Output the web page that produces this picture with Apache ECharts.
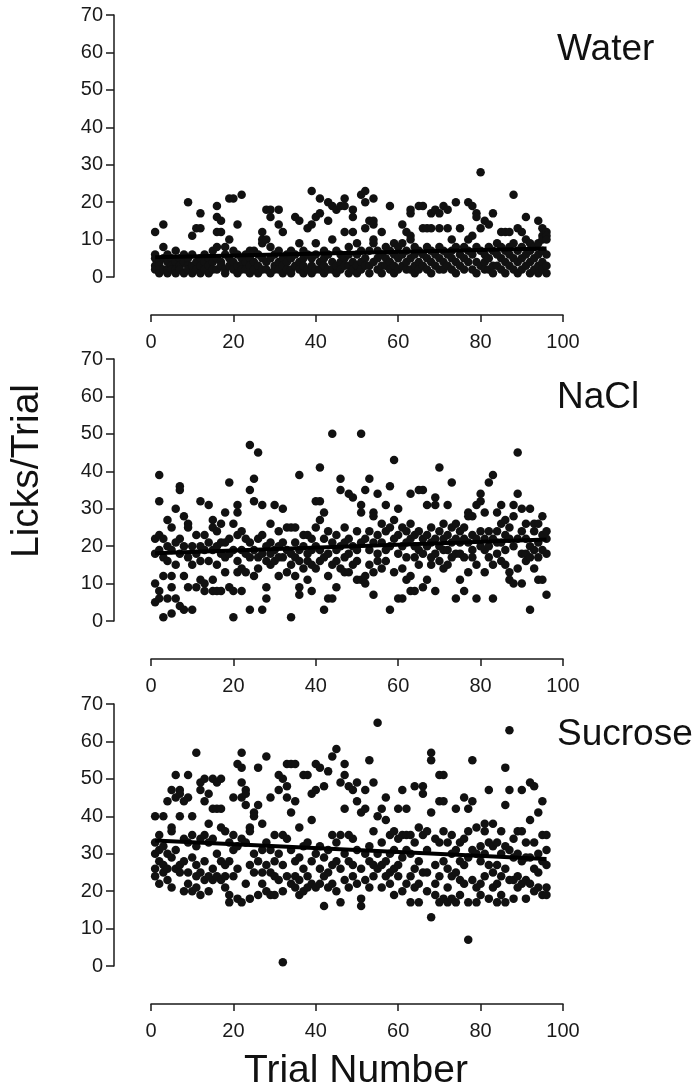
<!DOCTYPE html>
<html>
<head>
<meta charset="utf-8" />
<script src="https://cdn.jsdelivr.net/npm/echarts@6/dist/echarts.min.js"></script>
<style>
  html, body { margin: 0; padding: 0; background: #fff; }
  #main { width: 699px; height: 1091px; }
</style>
</head>
<body>
<div id="main"></div>
<script>
// licks per trial, one list per trial number (1..96)
var water = [
  [12,6,5,3,2],[4,3,2,1],[14,8,5,2],[6,4,2,1],[5,3,2],[7,4,2,1],[5,3,2],[6,4,1],
  [20,5,3,2],[11,6,3,1],[13,4,2],[17,13,5,3,1],[6,4,2],[5,3,1],[7,4,2],[19,16,12,8,5,2],
  [15,12,4,3],[8,6,2,1],[21,10,5,3],[21,7,4,2],[14,6,3,1],[22,5,3,2],[6,4,2],[7,5,3,1],
  [7,4,2],[6,3,1],[12,10,9,5,2],[18,10,4,2],[18,16,8,5,1],[6,3,2],[18,14,7,4,2],[12,5,3,1],
  [6,4,2],[7,5,2,1],[16,6,3],[15,9,4,2],[7,5,3,1],[13,6,2],[23,14,5,3,1],[16,9,6,2],
  [21,17,4,2],[7,5,3,1],[20,15,6,2],[19,10,4,2],[18,7,3,1],[19,6,4,2],[21,19,12,5,3],[8,6,3,1],
  [18,16,12,4,2],[9,6,3,1],[22,7,4,2],[23,20,13,5,3],[15,7,3,1],[21,15,14,10,9,4],[7,5,2],[12,6,3,1],
  [8,5,3],[19,7,4,2],[9,6,3,1],[8,5,2],[14,9,6,3],[12,7,4,2],[18,17,11,10,5,2],[8,6,3,1],
  [19,7,4,2],[19,13,6,3],[13,8,5,2],[17,13,7,4,1],[18,6,3],[17,13,8,5,2],[19,7,4,2],[18,13,6,3],
  [10,7,5,2],[20,8,4,1],[13,6,3],[8,5,2],[20,10,7,4],[19,11,6,2],[17,16,8,4,1],[28,13,7,3],
  [15,6,4,2],[14,8,5,2],[17,7,3,1],[9,6,3],[12,8,5,2],[12,7,4,1],[12,8,6,3],[22,9,5,2],
  [13,7,4,1],[12,8,5,2],[16,10,6,3],[9,7,4,1],[8,5,2],[15,9,6,3,1],[13,11,10,7,4,2],[12,11,10,6,3,1]
];
var nacl = [
  [22,18,10,5],[39,32,23,19,8,6],[22,17,12,1],[27,20,16,6],[25,19,12,9,2],[30,21,15,6],[36,35,22,18,4],[28,20,12,3],
  [26,25,17,9],[20,15,3],[23,18,9],[32,20,16,11],[23,19,10,8],[31,21,16],[27,25,19,11,8],[24,20,15,8],
  [26,21,18,8],[29,21,17,13],[37,22,18,9],[26,19,8,1],[31,29,23,16,13],[24,19,14,8],[22,18,13],[47,35,21,17,3],
  [38,32,19,12],[45,22,17,14],[31,23,18,3],[20,16,9,6],[26,21,18,15],[31,19,16],[24,20,17,12],[30,21,17],
  [25,19,13],[25,18,15,1],[25,21,17,12],[39,19,16,9,7],[23,20,14],[23,18,16,11],[22,19,15,8],[32,25,20,14],
  [41,32,27,19,16],[29,22,17,3],[24,18,12,6],[50,21,15,6],[23,19,16,9],[38,35,20,14],[25,21,17,13],[34,22,18,13],
  [33,20,15],[24,19,16,11],[50,31,29,21,11],[35,22,12,10],[38,24,19,15],[29,28,21,13,7],[34,23,18,16],[26,21,14],
  [31,24,19,16],[36,25,20,3],[43,27,22,13],[30,23,18,6],[25,20,14,6],[24,21,17,11],[34,26,22,12,8],[23,20,17,8],
  [35,24,19,15],[35,22,18,9],[31,23,20,11],[25,21,17,15],[33,31,22,18,8],[41,24,20,16],[26,22,19,14],[31,23,19,15],
  [37,25,21,17],[26,22,18,6],[24,21,18,11],[25,22,17,8],[29,28,21,13],[28,23,19,17],[31,22,15,6],[34,32,24,20],
  [29,22,19,13],[37,24,20,17],[39,22,15,6],[29,24,21,18],[31,26,21,16],[27,23,19,15],[25,22,13,11],[31,28,20,10],
  [45,34,22,14],[30,24,18,10],[26,22,18,16],[30,20,17,3],[26,24,19,14],[26,21,17,11],[28,23,19,11],[24,22,18,7]
];
var sucrose = [
  [40,33,30,26,24],[35,31,28,22],[40,32,27,25],[44,30,26,23],[47,37,36,29,21],[51,45,31,26],[47,46,40,27,25],[44,34,28,20],
  [51,45,33,25,22],[40,35,29,20],[57,32,27,24,21],[49,47,34,25,19],[50,44,35,28,23],[46,38,33,24,20],[50,42,34,26,23],[49,42,30,24],
  [50,42,37,28,23],[36,27,24,21],[33,28,19,17],[45,35,31,24],[54,32,26,18],[57,53,49,45,34,17],[47,46,43,33,22],[37,36,27,18],
  [41,40,30,25],[53,43,28,19],[38,31,25,22],[56,33,27,20],[45,31,25,19],[35,28,24,19],[51,47,30,23],[50,35,27,20,1],
  [54,48,45,34,24],[54,41,31,22],[54,44,28,24,21],[37,29,23,19],[51,32,26,20],[51,33,24,21],[46,39,28,22],[54,47,30,21],
  [53,32,26,22],[48,29,24,16],[52,31,25,21],[56,35,27,22],[58,33,28,20],[49,35,26,17],[54,51,42,30,23],[48,35,28,21],
  [47,34,27,24],[49,44,31,22],[41,26,18,16],[47,42,30,23],[55,32,28,21],[49,36,27,24],[65,40,30,26],[42,33,27,21],
  [45,39,28,24],[35,30,25,22],[36,31,26,19],[42,34,27,24],[47,35,29,20],[42,35,31,22],[35,30,24,17],[48,33,26,21],
  [37,28,22,17],[48,46,35,25],[36,31,25,20],[57,55,41,13],[34,27,22,19],[51,44,33,24,17],[51,44,36,28,18],[33,26,21,17],
  [35,30,24,18],[42,31,25,17],[33,28,23,19],[45,34,27,22],[42,36,29,17,7],[55,44,31,23],[37,30,21,17],[32,28,22,19],
  [38,36,30,24],[47,33,27,18],[38,32,25,21],[33,27,22,17],[36,30,24,19],[53,43,32,26,17],[63,47,31,23],[34,29,23,18],
  [36,30,24,21],[47,36,28,22],[33,29,23,18],[49,39,29,22],[48,33,26,20],[41,30,25,21],[44,35,28,19],[35,31,27,21,19]
];

// regression line end points [trial, licks]
var waterFit = [[1, 5.3], [96, 7.6]];
var naclFit = [[1, 18.1], [96, 21.8]];
var sucroseFit = [[1, 33.5], [96, 28.6]];

var panelNames = ["Water", "NaCl", "Sucrose"];
var xTicks = { min: 0, max: 100, interval: 20 };
var yTicks = { min: 0, max: 70, interval: 10 };

function toPoints(rows) {
  var out = [];
  rows.forEach(function (vals, i) {
    vals.forEach(function (v) {
      out.push([i + 1, v]);
    });
  });
  return out;
}

var panels = [water, nacl, sucrose];
var fits = [waterFit, naclFit, sucroseFit];
var tops = [15, 359, 704];
var font = "Liberation Sans, Arial, sans-serif";
var ink = "#1a1a1a";

var grids = [], xAxes = [], yAxes = [], series = [];
panels.forEach(function (rows, k) {
  grids.push({ left: 151, width: 412, top: tops[k], height: 262 });
  xAxes.push({
    gridIndex: k,
    type: "value",
    min: xTicks.min,
    max: xTicks.max,
    interval: xTicks.interval,
    offset: 38,
    axisLine: { onZero: false, lineStyle: { color: ink, width: 1.5 } },
    axisTick: { length: 7, lineStyle: { color: ink, width: 1.5 } },
    axisLabel: { margin: 17, fontSize: 20, color: ink, fontFamily: font },
    splitLine: { show: false },
  });
  yAxes.push({
    gridIndex: k,
    type: "value",
    min: yTicks.min,
    max: yTicks.max,
    interval: yTicks.interval,
    offset: 37,
    axisLine: { show: true, onZero: false, lineStyle: { color: ink, width: 1.5 } },
    axisTick: { show: true, length: 8, lineStyle: { color: ink, width: 1.5 } },
    axisLabel: { margin: 11, fontSize: 20, color: ink, fontFamily: font },
    splitLine: { show: false },
  });
  series.push({
    type: "scatter",
    xAxisIndex: k,
    yAxisIndex: k,
    symbol: "circle",
    symbolSize: 8.5,
    itemStyle: { color: "#111", opacity: 1 },
    data: toPoints(rows),
  });
  series.push({
    type: "line",
    xAxisIndex: k,
    yAxisIndex: k,
    symbol: "none",
    z: 5,
    lineStyle: { color: "#000", width: 4 },
    data: fits[k],
  });
});

var titleMid = [50, 398, 735];
var graphic = panelNames.map(function (name, k) {
  return {
    type: "text",
    x: 557,
    y: titleMid[k],
    style: { text: name, font: "37px " + font, fill: "#111", align: "left", verticalAlign: "middle" },
  };
});
graphic.push({
  type: "text",
  x: 356,
  y: 1071,
  style: { text: "Trial Number", font: "39px " + font, fill: "#111", align: "center", verticalAlign: "middle" },
});
graphic.push({
  type: "text",
  x: 27,
  y: 471,
  rotation: Math.PI / 2,
  style: { text: "Licks/Trial", font: "39px " + font, fill: "#111", align: "center", verticalAlign: "middle" },
});

var myChart = echarts.init(document.getElementById("main"), null, { renderer: "canvas" });
myChart.setOption({
  animation: false,
  backgroundColor: "#fff",
  grid: grids,
  xAxis: xAxes,
  yAxis: yAxes,
  series: series,
  graphic: graphic,
});
</script>
</body>
</html>
